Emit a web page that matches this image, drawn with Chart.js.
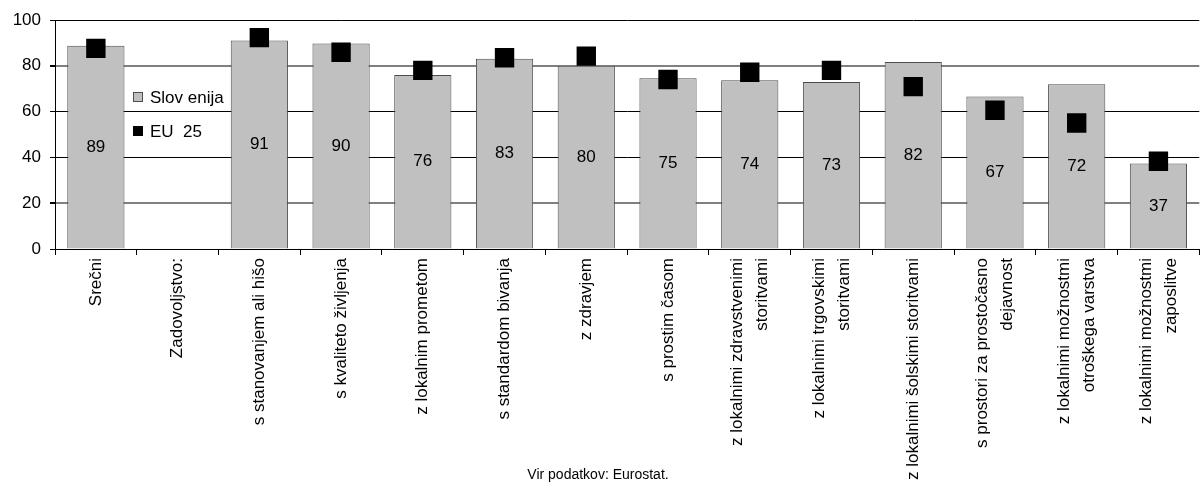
<!DOCTYPE html>
<html>
<head>
<meta charset="utf-8">
<script src="https://cdn.jsdelivr.net/npm/chart.js@4.4.1/dist/chart.umd.min.js"></script>
<style>
    html, body { margin: 0; padding: 0; background: #fff; overflow: hidden; }
    /* plot runs a little past the right edge of the window, as in the original */
    #wrap { width: 1213px; height: 486px; }
</style>
</head>
<body>
<div id="wrap"><canvas id="chart"></canvas></div>
<script>
// podatki
const categories = [
    'Srečni',
    'Zadovoljstvo:',
    's stanovanjem ali hišo',
    's kvaliteto življenja',
    'z lokalnim prometom',
    's standardom bivanja',
    'z zdravjem',
    's prostim časom',
    ['z lokalnimi zdravstvenimi', 'storitvami'],
    ['z lokalnimi trgovskimi', 'storitvami'],
    'z lokalnimi šolskimi storitvami',
    ['s prostori za prostočasno', 'dejavnost'],
    ['z lokalnimi možnostmi', 'otroškega varstva'],
    ['z lokalnimi možnostmi', 'zaposlitve']
];
const sloveniaValues = [88.8, null, 91.1, 89.7, 76.0, 83.1, 80.0, 74.6, 73.7, 72.9, 81.7, 66.6, 71.9, 37.3];
const eu25Values = [87.6, null, 92.3, 85.9, 78.0, 83.5, 84.2, 74.0, 77.2, 78.0, 70.9, 60.6, 55.0, 38.3];
const yTicks = [0, 20, 40, 60, 80, 100];
const seriesNames = ['Slov enija', 'EU  25'];
const sourceNote = 'Vir podatkov: Eurostat.';

const FONT = '"Liberation Sans", Arial, sans-serif';
const BAR_FILL = '#c0c0c0';
const BAR_EDGE = '#4d4d4d';

// number in the middle of each bar
const barLabels = {
    id: 'barLabels',
    afterDatasetDraw(chart, args) {
        if (args.index !== 0) return;
        const ctx = chart.ctx;
        ctx.save();
        ctx.font = '17px ' + FONT;
        ctx.fillStyle = '#000';
        ctx.textAlign = 'center';
        ctx.textBaseline = 'middle';
        args.meta.data.forEach((bar, i) => {
            const v = sloveniaValues[i];
            if (v == null) return;
            ctx.fillText(String(Math.round(v)), bar.x, (bar.y + bar.base) / 2);
        });
        ctx.restore();
    }
};

// vertical category labels, multi-line ones centred on the tick
const xLabels = {
    id: 'xLabels',
    afterDraw(chart) {
        const ctx = chart.ctx;
        const xs = chart.scales.x;
        const top = xs.top + 9;
        const lh = 25;
        ctx.save();
        ctx.font = '17px ' + FONT;
        ctx.fillStyle = '#000';
        ctx.textAlign = 'right';
        ctx.textBaseline = 'middle';
        categories.forEach((lab, i) => {
            const lines = Array.isArray(lab) ? lab : [lab];
            const cx = xs.getPixelForValue(i);
            lines.forEach((line, j) => {
                ctx.save();
                ctx.translate(cx + (j - (lines.length - 1) / 2) * lh, top);
                ctx.rotate(-Math.PI / 2);
                ctx.fillText(line, 0, 0);
                ctx.restore();
            });
        });
        ctx.restore();
    }
};

// legend sits inside the plot, plus the source note at the bottom
const legendAndNote = {
    id: 'legendAndNote',
    afterDraw(chart) {
        const ctx = chart.ctx;
        const x0 = chart.chartArea.left + 78;
        const rows = [97, 131];
        ctx.save();
        ctx.font = '17px ' + FONT;
        ctx.textAlign = 'left';
        ctx.textBaseline = 'middle';

        ctx.fillStyle = BAR_FILL;
        ctx.fillRect(x0 + 0.5, rows[0] - 4.5, 9, 9);
        ctx.strokeStyle = BAR_EDGE;
        ctx.lineWidth = 1;
        ctx.strokeRect(x0 + 0.5, rows[0] - 4.5, 9, 9);
        ctx.fillStyle = '#000';
        ctx.fillRect(x0, rows[1] - 5, 10, 10);

        ctx.fillText(seriesNames[0], x0 + 17, rows[0] + 1);
        ctx.fillText(seriesNames[1], x0 + 17, rows[1] + 1);

        ctx.font = '14px ' + FONT;
        ctx.textAlign = 'center';
        ctx.fillText(sourceNote, 598, 475);
        ctx.restore();
    }
};

new Chart(document.getElementById('chart'), {
    data: {
        labels: categories,
        datasets: [
            {
                type: 'bar', label: seriesNames[0], data: sloveniaValues,
                backgroundColor: BAR_FILL, borderColor: BAR_EDGE, borderWidth: 1,
                barPercentage: 0.7, categoryPercentage: 1, order: 1
            },
            {
                type: 'line', label: seriesNames[1], data: eu25Values,
                showLine: false, pointStyle: 'rect',
                pointRadius: 13.7, pointHoverRadius: 13.7,
                pointBackgroundColor: '#000', pointBorderWidth: 0, order: 0
            }
        ]
    },
    options: {
        responsive: true,
        maintainAspectRatio: false,
        animation: false,
        layout: { padding: { top: 20, left: 0, right: 0, bottom: 0 } },
        plugins: { legend: { display: false }, tooltip: { enabled: false } },
        scales: {
            x: {
                offset: true,
                grid: { offset: true, drawOnChartArea: false, drawTicks: true, tickLength: 6, color: '#000' },
                border: { color: '#000' },
                ticks: { display: false },
                afterFit: s => { s.height = 237; }
            },
            y: {
                min: 0, max: 100,
                afterBuildTicks: s => { s.ticks = yTicks.map(v => ({ value: v })); },
                ticks: { font: { family: FONT, size: 17 }, color: '#000', padding: 9 },
                grid: {
                    color: c => (c.tick && (c.tick.value === 20 || c.tick.value === 80)) ? '#808080' : '#000',
                    lineWidth: c => (c.tick && (c.tick.value === 20 || c.tick.value === 80)) ? 2 : 1,
                    tickColor: '#000',
                    tickLength: 5
                },
                border: { color: '#000' },
                afterFit: s => { s.width = 55; }
            }
        }
    },
    plugins: [barLabels, xLabels, legendAndNote]
});
</script>
</body>
</html>
